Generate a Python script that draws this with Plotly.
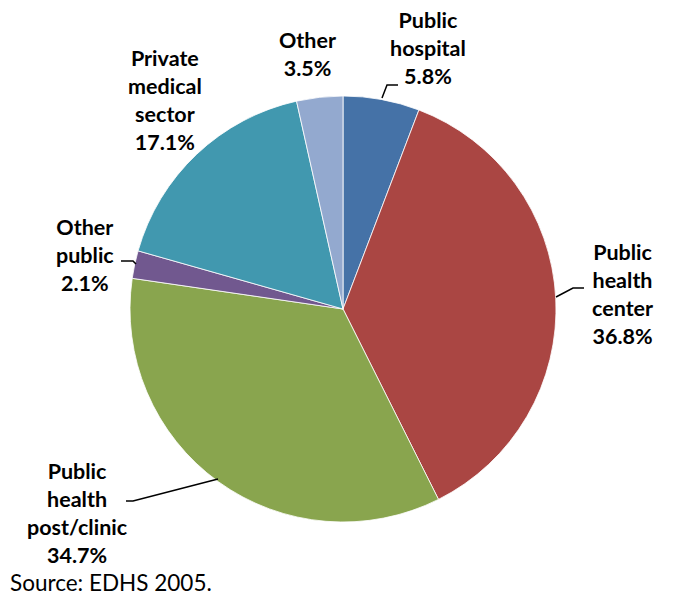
import plotly.graph_objects as go

categories = ["Public hospital", "Public health center", "Public health post/clinic",
              "Other public", "Private medical sector", "Other"]
values = [5.8, 36.8, 34.7, 2.1, 17.1, 3.5]
colors = ["#4572A7", "#AA4643", "#89A54E", "#71588F", "#4198AF", "#93A9CF"]
label_texts = ["Public<br>hospital<br>5.8%", "Public<br>health<br>center<br>36.8%",
               "Public<br>health<br>post/clinic<br>34.7%", "Other<br>public<br>2.1%",
               "Private<br>medical<br>sector<br>17.1%", "Other<br>3.5%"]

W, H = 673, 596

def px(x):
    return x / W

def py(y):
    return 1 - y / H

fig = go.Figure(go.Pie(
    labels=categories, values=values, sort=False, direction="clockwise", rotation=0,
    marker=dict(colors=colors, line=dict(color="white", width=0.8)),
    textinfo="none", hoverinfo="label+percent", showlegend=False,
    domain=dict(x=[px(130), px(556)], y=[py(522), py(96)]),
))

font_b = dict(family="Lato, Open Sans, sans-serif", size=21.5, color="#000000")
label_pos = [(428, 48), (622, 294), (77, 513), (85, 255), (165, 100), (307, 54)]
anns = []
for t, (x, y) in zip(label_texts, label_pos):
    anns.append(dict(text="<b>" + t + "</b>", x=px(x), y=py(y), xref="paper", yref="paper",
                     showarrow=False, xanchor="center", yanchor="middle", align="center",
                     font=font_b))
anns.append(dict(text="Source: EDHS 2005.", x=px(8), y=py(582), xref="paper", yref="paper",
                 showarrow=False, xanchor="left", yanchor="middle",
                 font=dict(family="Lato, Open Sans, sans-serif", size=22.5, color="#000000")))

leaders = [
    [(382, 98), (387, 85), (398, 85)],
    [(556, 297), (573, 288), (584, 288)],
    [(218, 479), (133, 501), (126, 501)],
    [(136, 264), (133, 261), (121, 261)],
]
shapes = []
for pts in leaders:
    path = "M " + " L ".join(f"{px(a)},{py(b)}" for a, b in pts)
    shapes.append(dict(type="path", path=path, xref="paper", yref="paper",
                       line=dict(color="#000000", width=1.5)))

fig.update_layout(width=W, height=H, margin=dict(l=0, r=0, t=0, b=0),
                  paper_bgcolor="white", plot_bgcolor="white",
                  annotations=anns, shapes=shapes)
fig.write_html("out.html")
